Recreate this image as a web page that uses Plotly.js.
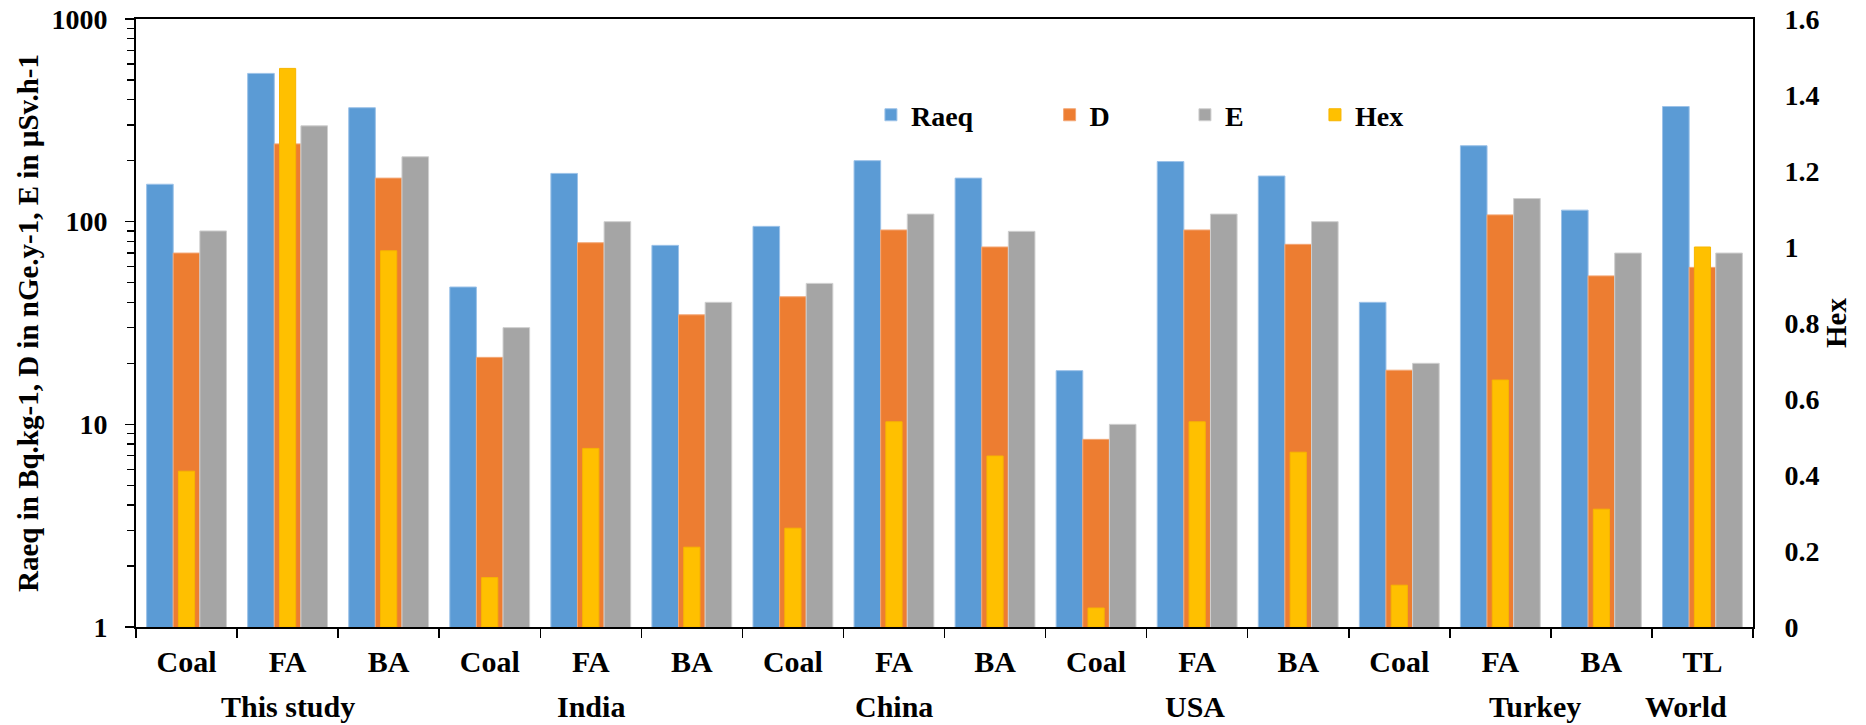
<!DOCTYPE html>
<html>
<head>
<meta charset="utf-8">
<script src="https://cdn.plot.ly/plotly-3.0.1.min.js"></script>
<style>
  html, body { margin: 0; padding: 0; background: #ffffff; }
  #chart { width: 1866px; height: 725px; }
</style>
</head>
<body>
<div id="chart"></div>
<script>
// ---- Data ----
const categories = ['Coal', 'FA', 'BA', 'Coal', 'FA', 'BA', 'Coal', 'FA', 'BA', 'Coal', 'FA', 'BA', 'Coal', 'FA', 'BA', 'TL'];
const groupOf    = ['This study', 'This study', 'This study', 'India', 'India', 'India', 'China', 'China', 'China', 'USA', 'USA', 'USA', 'Turkey', 'Turkey', 'Turkey', 'World'];
const groups     = ['This study', 'India', 'China', 'USA', 'Turkey', 'World'];
const raeq = [153, 539, 365, 47.6, 173, 76.4, 94.8, 200, 164, 18.4, 198, 168, 40, 237, 114, 370];
const dose = [70, 242, 164, 21.4, 78.7, 34.7, 42.6, 91, 75, 8.43, 91, 77.3, 18.5, 108, 54, 59.5];
const eff  = [90, 297, 209, 30, 100, 40, 49.6, 109, 89.6, 10, 109, 100, 20, 130, 70, 70];
const hex  = [0.41, 1.47, 0.99, 0.13, 0.47, 0.21, 0.26, 0.54, 0.45, 0.05, 0.54, 0.46, 0.11, 0.65, 0.31, 1.0];
const leftTickVals = [1, 10, 100, 1000];
const leftTickText = ['1', '10', '100', '1000'];

// ---- Styling ----
const FONT = 'Liberation Serif, Times New Roman, serif';
const fnt = (size) => ({ family: FONT, size: size, color: '#000000', weight: 'bold' });
const xIdx = categories.map((_, i) => i);

// group label horizontal positions (layout, in category units)
const groupLabelPos = [1, 4, 7, 9.98, 13.34, 14.84];

// minor log ticks 2..9 per decade
const minorVals = [];
[1, 10, 100].forEach(d => { for (let k = 2; k <= 9; k++) minorVals.push(d * k); });
// category boundaries
const boundaries = [];
for (let i = 0; i <= categories.length; i++) boundaries.push(i - 0.5);

const traces = [
  { type: 'bar', name: 'Raeq', x: xIdx, y: raeq, yaxis: 'y', legend: 'legend',
    marker: { color: '#5B9BD5', line: { color: '#9CC2E8', width: 1 } } },
  { type: 'bar', name: 'D', x: xIdx, y: dose, yaxis: 'y', legend: 'legend2',
    marker: { color: '#ED7D31', line: { color: '#F3A776', width: 1 } } },
  { type: 'bar', name: 'E', x: xIdx, y: eff, yaxis: 'y', legend: 'legend3',
    marker: { color: '#A5A5A5', line: { color: '#CFCFCF', width: 1 } } },
  { type: 'bar', name: 'Hex', x: xIdx, y: hex, yaxis: 'y2', legend: 'legend4', width: 0.16,
    marker: { color: '#FFC000', line: { color: '#F7B500', width: 1 } } }
];

const legendBase = (xp) => ({
  x: xp, y: 0.842, xanchor: 'left', yanchor: 'middle',
  orientation: 'h', font: fnt(28), bgcolor: 'rgba(0,0,0,0)', borderwidth: 0, itemwidth: 30
});

const annotations = groups.map((g, i) => ({
  text: g, xref: 'x', yref: 'paper', x: groupLabelPos[i], y: -0.13,
  xanchor: 'center', yanchor: 'middle', showarrow: false, font: fnt(30)
}));

const layout = {
  width: 1866, height: 725,
  margin: { l: 136, r: 113, t: 19, b: 98, pad: 0 },
  paper_bgcolor: '#ffffff', plot_bgcolor: '#ffffff',
  barmode: 'group', bargap: 0.21, bargroupgap: 0,
  showlegend: true,
  legend: legendBase(0.4545),
  legend2: legendBase(0.565),
  legend3: legendBase(0.6487),
  legend4: legendBase(0.7291),
  xaxis: {
    type: 'linear', range: [-0.5, categories.length - 0.5],
    tickmode: 'array', tickvals: xIdx, ticktext: categories,
    ticks: '', tickfont: fnt(30), ticklabelstandoff: 7,
    showgrid: false, zeroline: false,
    showline: true, linecolor: '#000000', linewidth: 2, mirror: true,
    minor: { tickmode: 'array', tickvals: boundaries, ticks: 'outside', ticklen: 9, tickwidth: 1.5, tickcolor: '#000000', showgrid: false }
  },
  yaxis: {
    type: 'log', range: [0, 3],
    tickmode: 'array', tickvals: leftTickVals, ticktext: leftTickText,
    ticks: 'outside', ticklen: 9, tickwidth: 1.5, tickcolor: '#000000',
    tickfont: fnt(28), ticklabelstandoff: 12,
    showgrid: false, zeroline: false,
    showline: true, linecolor: '#000000', linewidth: 2,
    minor: { tickmode: 'array', tickvals: minorVals, ticks: 'outside', ticklen: 7, tickwidth: 1.5, tickcolor: '#000000', showgrid: false },
    title: { text: 'Raeq in Bq.kg-1, D in nGe.y-1, E in µSv.h-1', font: fnt(29), standoff: 4 }
  },
  yaxis2: {
    overlaying: 'y', side: 'right', range: [0, 1.6], dtick: 0.2, tick0: 0,
    ticks: '', tickfont: fnt(28), ticklabelstandoff: 24,
    showgrid: false, zeroline: false,
    showline: true, linecolor: '#000000', linewidth: 2,
    title: { text: 'Hex', font: fnt(29), standoff: 6 }
  },
  annotations: annotations
};

Plotly.newPlot('chart', traces, layout, { staticPlot: true, displayModeBar: false });
</script>
</body>
</html>
